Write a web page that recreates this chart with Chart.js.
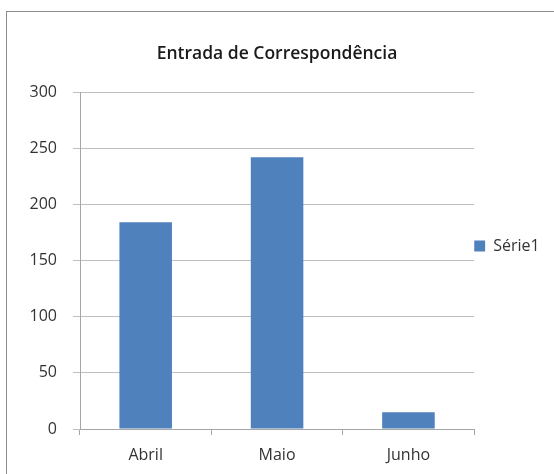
<!DOCTYPE html>
<html>
<head>
<meta charset="utf-8">
<script src="https://cdn.jsdelivr.net/npm/chart.js@4"></script>
<style>
  body { margin: 0; background: #fff; }
  #wrap { position: relative; width: 554px; height: 474px; overflow: hidden; }
  #frame { position: absolute; left: 6px; top: 11px; width: 600px; height: 500px; border: 1px solid #8c8c8c; pointer-events: none; }
  canvas { position: absolute; left: 0; top: 0; }
</style>
</head>
<body>
<div id="wrap">
  <div id="frame"></div>
  <canvas id="myChart" width="554" height="474"></canvas>
</div>
<script>
var months = ["Abril", "Maio", "Junho"];
var serie1 = [184, 242, 15];
var yTicks = [0, 50, 100, 150, 200, 250, 300];

var ctx = document.getElementById('myChart').getContext('2d');
var chart = new Chart(ctx, {
    type: 'bar',
    data: {
        labels: months,
        datasets: [{
            label: "Série1",
            data: serie1,
            backgroundColor: "#4f81bd",
            borderWidth: 0,
            categoryPercentage: 1,
            barPercentage: 0.4
        }]
    },
    options: {
        responsive: false,
        animation: false,
        layout: { padding: { top: 28, bottom: 9.8, left: 4.4, right: 4.4 } },
        plugins: {
            title: {
                display: true,
                text: "Entrada de Correspondência",
                color: "#1a1a1a",
                font: { family: "Open Sans", size: 17.5, weight: 600 },
                padding: { top: 16, bottom: 27 }
            },
            legend: {
                position: 'right',
                labels: {
                    boxWidth: 11,
                    boxHeight: 11,
                    padding: 0,
                    color: "#333",
                    font: { family: "Open Sans", size: 16 }
                }
            },
            tooltip: { enabled: false }
        },
        scales: {
            x: {
                afterFit: function(scale) { scale.height = 35.2; },
                grid: { drawOnChartArea: false, tickLength: 6, color: "#a6a6a6" },
                border: { color: "#a6a6a6" },
                ticks: { padding: 11, color: "#333", font: { family: "Open Sans", size: 16 } }
            },
            y: {
                min: 0,
                max: 300,
                afterBuildTicks: function(scale) {
                    scale.ticks = yTicks.map(function(v) { return { value: v }; });
                },
                afterFit: function(scale) { scale.width = 75.6; },
                grid: { tickLength: 7, color: "#bfbfbf" },
                border: { color: "#a6a6a6" },
                ticks: { padding: 16, color: "#333", font: { family: "Open Sans", size: 16 } }
            }
        }
    }
});
</script>
</body>
</html>
